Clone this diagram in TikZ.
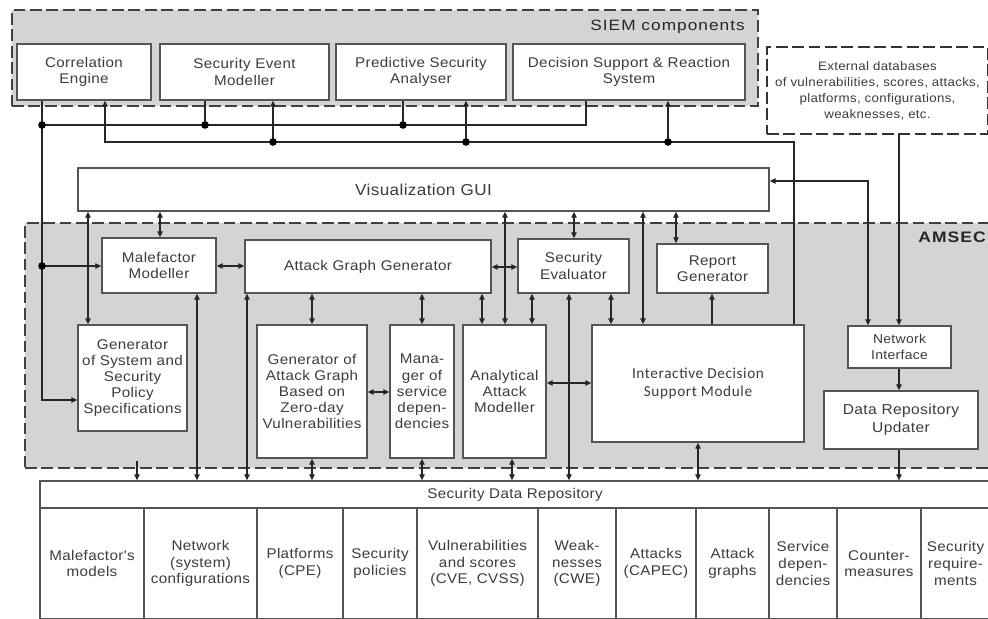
\documentclass[tikz,border=0pt]{standalone}
\usepackage{fontspec}
\usetikzlibrary{arrows.meta}
\newfontfamily\labfont{Liberation Sans}[FakeStretch=1.08,LetterSpace=2.5]
\newfontfamily\headfont{Liberation Sans}[FakeStretch=1.15,LetterSpace=7]
\newfontfamily\idsmfont{Carlito}[LetterSpace=4]
\definecolor{bgg}{RGB}{212,212,212}
\definecolor{txt}{RGB}{60,60,60}
\definecolor{bdr}{RGB}{85,85,85}
\tikzset{
  corners/.style args={#1/#2/#3/#4}{at={({(#1+#3)/2},{(#2+#4)/2})},
     minimum width={(#3-#1)*0.03cm}, minimum height={(#4-#2)*0.03cm}},
  box/.style={draw=bdr, line width=1.2pt, fill=white, inner sep=0pt, text=txt, align=center, font=\labfont\fontsize{12}{13.8}\selectfont},
  region/.style={draw=black!75, line width=1.5pt, dash pattern=on 10pt off 4pt, fill=bgg, inner sep=0pt},
  extbox/.style={draw=black!80, line width=1.5pt, dash pattern=on 10pt off 4pt, fill=white, inner sep=0pt, text=txt, align=center, font=\labfont\fontsize{10.5}{13.6}\selectfont},
  con/.style={draw=black!85, line width=0.9pt},
  arr/.style={con, -{Triangle[length=5pt,width=4.6pt]}},
  darr/.style={con, {Triangle[length=5pt,width=4.6pt]}-{Triangle[length=5pt,width=4.6pt]}},
  jdot/.style={circle, fill=black, inner sep=0pt, minimum size=6.5pt},
}
\begin{document}
\begin{tikzpicture}[x=0.03cm, y=-0.03cm]
\useasboundingbox (0,0) rectangle (988,618);
\fill[white] (0,0) rectangle (988,618);
\clip (0,0) rectangle (988,618);

% SIEM components
\node[region, corners={12/10/758/106}] (SIEM) {};
\node[anchor=east, text=black!85, font=\headfont\fontsize{12.8}{14}\selectfont] (siemlbl) at (749,27) {SIEM components};
\node[box, corners={17/44/151/100}] (CE) {Correlation\\Engine};
\node[box, corners={160/44/329/100}] (SEM) {Security Event\\Modeller};
\node[box, corners={336/44/506/100}] (PSA) {Predictive Security\\Analyser};
\node[box, corners={513/44/745/100}] (DS) {Decision Support \& Reaction\\System};

% External databases
\node[extbox, corners={767/47/988/134}] (EXT) {External databases\\of vulnerabilities, scores, attacks,\\platforms, configurations,\\weaknesses, etc.};

% GUI
\node[box, corners={78/168/769/211}, font=\labfont\fontsize{13.5}{15}\selectfont] (GUI) {Visualization GUI};

% AMSEC
\node[region, corners={25/223/1000/468}] (AMSEC) {};
\node[anchor=east, text=black!85, font=\headfont\bfseries\fontsize{13}{14}\selectfont] (amseclbl) at (990,237) {AMSEC};
\node[box, corners={102/238/216/293}] (MM) {Malefactor\\Modeller};
\node[box, corners={245/240/491/293}] (AGG) {Attack Graph Generator};
\node[box, corners={518/239/629/293}] (SE) {Security\\Evaluator};
\node[box, corners={657/244/768/293}] (RG) {Report\\Generator};
\node[box, corners={78/325/187/431}] (GSS) {Generator\\of System and\\Security\\Policy\\Specifications};
\node[box, corners={257/325/367/458}] (GAGZ) {Generator of\\Attack Graph\\Based on\\Zero-day\\Vulnerabilities};
\node[box, corners={390/325/454/458}] (MAN) {Mana-\\ger of\\service\\depen-\\dencies};
\node[box, corners={463/325/546/458}] (AAM) {Analytical\\Attack\\Modeller};
\node[box, corners={592/325/804/442}, font=\idsmfont\fontsize{13}{15.5}\selectfont] (IDSM) {Interactive Decision\\Support Module};
\node[box, corners={848/326/951/368}, font=\labfont\fontsize{11}{13.4}\selectfont] (NI) {Network\\Interface};
\node[box, corners={824/391/978/449}, font=\labfont\fontsize{12.3}{15}\selectfont] (DRU) {Data Repository\\Updater};

% Security Data Repository
\node[box, corners={40/481/990/508}] (SDR) {Security Data Repository};
\begin{scope}[every node/.style={box, font=\labfont\fontsize{12}{14.2}\selectfont}]
\node[corners={40/508/144/619}] (c1) {Malefactor's\\models};
\node[corners={144/508/257/619}] (c2) {Network\\(system)\\configurations};
\node[corners={257/508/343/619}] (c3) {Platforms\\(CPE)};
\node[corners={343/508/417/619}] (c4) {Security\\policies};
\node[corners={417/508/538/619}] (c5) {Vulnerabilities\\and scores\\(CVE, CVSS)};
\node[corners={538/508/616/619}] (c6) {Weak-\\nesses\\(CWE)};
\node[corners={616/508/696/619}] (c7) {Attacks\\(CAPEC)};
\node[corners={696/508/769/619}] (c8) {Attack\\graphs};
\node[corners={769/508/837/619}] (c9) {Service\\depen-\\dencies};
\node[corners={837/508/921/619}] (c10) {Counter-\\measures};
\node[corners={921/508/990/619}] (c11) {Security\\require-\\ments};
\end{scope}

% ---- bus 1 (SIEM outputs)
\coordinate (b1a) at (42,125);
\coordinate (b1b) at (205,125);
\coordinate (b1c) at (403,125);
\coordinate (b1d) at (586,125);
\coordinate (jm) at (42,266);
\draw[arr] (CE.south -| b1a) |- (GSS.west |- 0,400);
\draw[con] (SEM.south -| b1b) -- (b1b);
\draw[con] (PSA.south -| b1c) -- (b1c);
\draw[con] (b1a) -- (b1d) -- (DS.south -| b1d);
\draw[arr] (jm) -- (MM.west |- jm);
\node[jdot] (d1) at (b1a) {};
\node[jdot] (d2) at (b1b) {};
\node[jdot] (d3) at (b1c) {};
\node[jdot] (d4) at (jm) {};

% ---- bus 2 (to SIEM)
\coordinate (b2a) at (105,142);
\coordinate (b2b) at (273,142);
\coordinate (b2c) at (466,142);
\coordinate (b2d) at (668,142);
\coordinate (b2e) at (794,142);
\draw[arr] (IDSM.north -| b2e) -- (b2e) -- (b2a) -- (CE.south -| b2a);
\draw[arr] (b2b) -- (SEM.south -| b2b);
\draw[arr] (b2c) -- (PSA.south -| b2c);
\draw[arr] (b2d) -- (DS.south -| b2d);
\node[jdot] (d5) at (b2b) {};
\node[jdot] (d6) at (b2c) {};
\node[jdot] (d7) at (b2d) {};

% ---- external / network interface
\draw[arr] (EXT.south -| 899,0) -- (NI.north -| 899,0);
\draw[darr] (GUI.east |- 0,181) -| (NI.north -| 868,0);
\draw[arr] (NI.south -| 899,0) -- (DRU.north -| 899,0);
\draw[arr] (DRU.south -| 899,0) -- (SDR.north -| 899,0);

% ---- GUI links
\foreach \xx/\nn in {88/GSS,160/MM,505/AAM,574/SE,643/IDSM,676/RG}
  \draw[darr] (GUI.south -| \xx,0) -- (\nn.north -| \xx,0);

% ---- AMSEC internal links
\draw[darr] (MM.east |- 0,266) -- (AGG.west |- 0,266);
\draw[darr] (AGG.east |- 0,267) -- (SE.west |- 0,267);
\foreach \xx/\nn in {312/GAGZ,422/MAN,482/AAM}
  \draw[darr] (AGG.south -| \xx,0) -- (\nn.north -| \xx,0);
\draw[darr] (SE.south -| 532,0) -- (AAM.north -| 532,0);
\draw[darr] (SE.south -| 611,0) -- (IDSM.north -| 611,0);
\draw[arr] (IDSM.north -| 712,0) -- (RG.south -| 712,0);
\draw[darr] (GAGZ.east |- 0,392) -- (MAN.west |- 0,392);
\draw[darr] (AAM.east |- 0,383) -- (IDSM.west |- 0,383);

% ---- links to Security Data Repository
\foreach \xx/\nn in {197/MM,247/AGG,569/SE,312/GAGZ,422/MAN,512/AAM,698/IDSM}
  \draw[darr] (\nn.south -| \xx,0) -- (SDR.north -| \xx,0);
\coordinate (g137) at (137,461);
\draw[arr] (g137) -- (SDR.north -| g137);
\end{tikzpicture}
\end{document}
